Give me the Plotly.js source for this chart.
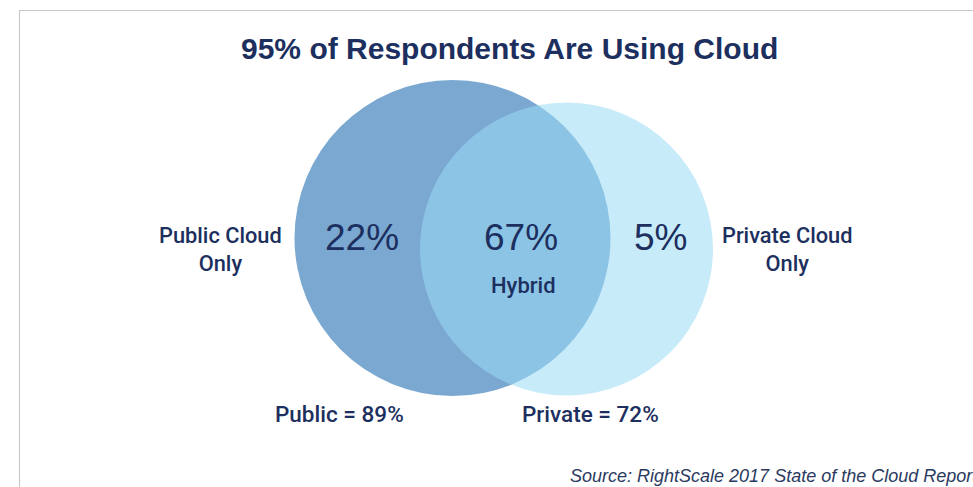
<!DOCTYPE html>
<html>
<head>
<meta charset="utf-8">
<script src="https://cdn.plot.ly/plotly-3.0.1.min.js"></script>
<style>html,body{margin:0;padding:0;background:#fff;}#chart{width:973px;height:487px;}</style>
</head>
<body>
<div id="chart"></div>
<script>
// Data
var titleText = "95% of Respondents Are Using Cloud";
var segmentLabels = ["Public Cloud<br>Only", "Hybrid", "Private Cloud<br>Only"];
var segmentValues = [22, 67, 5];
var setNames = ["Public", "Private"];
var setTotals = [89, 72];
var sourceText = "Source: RightScale 2017 State of the Cloud Report";

var navy = "#1c2f5e";
var font = "Liberation Sans, Arial, Helvetica, sans-serif";
var medFont = "Roboto, Liberation Sans, Arial, sans-serif";

// Geometry (pixel space)
var L = {cx: 452.5, cy: 238, r: 158};
var R = {cx: 566.5, cy: 249, r: 146.5};

function circ(c, fill) {
  return {type: "circle", xref: "x", yref: "y", x0: c.cx - c.r, x1: c.cx + c.r,
          y0: c.cy - c.r, y1: c.cy + c.r, fillcolor: fill, line: {width: 0}, layer: "below"};
}

var shapes = [
  {type: "rect", xref: "x", yref: "y", x0: 19.5, y0: 10.5, x1: 1000, y1: 520,
   line: {color: "#c9c9c9", width: 1.2}, fillcolor: "rgba(0,0,0,0)", layer: "below"},
  circ(L, "#7ba8d1"),
  circ(R, "rgba(155,219,246,0.55)")
];

var annotations = [];
function ann(x, y, text, size, opts, fam, weight) {
  var a = Object.assign({x: x, y: y, xref: "x", yref: "y", text: text, showarrow: false,
    font: {family: fam || font, size: size, color: navy, weight: weight || "normal"},
    xanchor: "center", yanchor: "middle"}, opts || {});
  annotations.push(a);
}

ann(509, 48, "<b>" + titleText + "</b>", 30);
ann(220, 249, segmentLabels[0], 21.8, {align: "center"}, medFont, 500);
ann(787, 249, segmentLabels[2], 21.8, {align: "center"}, medFont, 500);
ann(362, 237, segmentValues[0] + "%", 37);
ann(521, 237, segmentValues[1] + "%", 37);
ann(660, 237, segmentValues[2] + "%", 37);
ann(523, 285, segmentLabels[1], 22, {}, medFont, 500);
ann(339, 414, setNames[0] + " = " + setTotals[0] + "%", 22.5, {}, medFont, 500);
ann(590, 414, setNames[1] + " = " + setTotals[1] + "%", 22.5, {}, medFont, 500);
annotations.push({x: 568, y: 476, xref: "x", yref: "y", text: "<i>" + sourceText + "</i>", showarrow: false,
  xanchor: "left", yanchor: "middle", font: {family: font, size: 18, color: "#2a3a60"}});

var layout = {
  width: 973, height: 487,
  margin: {l: 0, r: 0, t: 0, b: 0},
  paper_bgcolor: "#fff", plot_bgcolor: "#fff",
  xaxis: {range: [0, 973], visible: false, fixedrange: true},
  yaxis: {range: [487, 0], visible: false, fixedrange: true},
  shapes: shapes,
  annotations: annotations,
  showlegend: false
};

Plotly.newPlot("chart", [{x: [], y: [], type: "scatter", mode: "markers"}], layout, {displayModeBar: false, staticPlot: true});
</script>
</body>
</html>
